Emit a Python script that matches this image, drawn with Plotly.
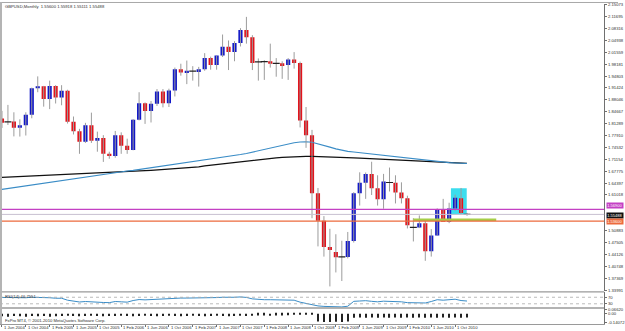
import plotly.graph_objects as go
import pandas as pd

W, H = 625, 331

# ---------------- data ----------------
months = [p.strftime("%Y-%m") for p in pd.period_range("2004-06", "2010-12", freq="M")]

opens = [1.8270, 1.8150, 1.8190, 1.8010, 1.8080, 1.8380, 1.9130,
         1.9190, 1.8830, 1.9200, 1.8870, 1.9060, 1.8180, 1.7910, 1.7610, 1.8080, 1.7640, 1.7720, 1.7270,
         1.7210, 1.7800, 1.7500, 1.7380, 1.8240, 1.8710, 1.8490, 1.8690, 1.9040, 1.8710, 1.9070, 1.9670,
         1.9580, 1.9630, 1.9620, 1.9670, 1.9990, 1.9790, 2.0060, 2.0310, 2.0160, 2.0420, 2.0790, 2.0580,
         1.9850, 1.9880, 1.9900, 1.9850, 1.9840, 1.9790, 1.9950, 1.9850, 1.8220, 1.7800, 1.6150, 1.5370,
         1.4620, 1.4480, 1.4330, 1.4340, 1.4790, 1.6150, 1.6450, 1.6700, 1.6290, 1.5980, 1.6480, 1.6450,
         1.6170, 1.6010, 1.5190, 1.5180, 1.5300, 1.4500, 1.4950, 1.5690, 1.5340, 1.5720, 1.6010, 1.5560]
highs = [1.8490, 1.8660, 1.8450, 1.8250, 1.8450, 1.9150, 1.9470,
         1.9200, 1.9350, 1.9220, 1.9220, 1.9090, 1.8330, 1.7980, 1.8150, 1.8440, 1.7900, 1.7800, 1.7330,
         1.7920, 1.7880, 1.7700, 1.8260, 1.9020, 1.8730, 1.8770, 1.9110, 1.9110, 1.9120, 1.9720, 1.9830,
         1.9920, 1.9760, 1.9740, 2.0130, 2.0030, 2.0060, 2.0660, 2.0490, 2.0470, 2.0840, 2.1161, 2.0640,
         1.9980, 1.9930, 2.0400, 1.9990, 1.9900, 1.9990, 2.0160, 1.9890, 1.8600, 1.7950, 1.6300, 1.5500,
         1.5140, 1.4985, 1.4800, 1.5050, 1.6180, 1.6745, 1.6740, 1.7045, 1.6660, 1.6700, 1.6880, 1.6660,
         1.6460, 1.6080, 1.5440, 1.5520, 1.5370, 1.5130, 1.5720, 1.5990, 1.5880, 1.6110, 1.6300, 1.55918]
lows = [1.8005, 1.8090, 1.7765, 1.7760, 1.7790, 1.8280, 1.9020,
        1.8610, 1.8540, 1.8700, 1.8650, 1.8130, 1.7820, 1.7270, 1.7580, 1.7580, 1.7330, 1.7040, 1.7130,
        1.7160, 1.7270, 1.7270, 1.7370, 1.8220, 1.8120, 1.8160, 1.8630, 1.8590, 1.8600, 1.8900, 1.9490,
        1.9250, 1.9350, 1.9180, 1.9630, 1.9660, 1.9660, 2.0020, 1.9650, 1.9900, 2.0320, 2.0400, 1.9650,
        1.9350, 1.9370, 1.9720, 1.9460, 1.9400, 1.9370, 1.9690, 1.8020, 1.7440, 1.5440, 1.4640, 1.4350,
        1.3503, 1.3900, 1.3656, 1.4300, 1.4750, 1.5800, 1.5990, 1.6100, 1.5800, 1.5710, 1.6200, 1.5860,
        1.5860, 1.5150, 1.4780, 1.5160, 1.4230, 1.4350, 1.4950, 1.5340, 1.5300, 1.5650, 1.5530, 1.55111]
closes = [1.8150, 1.8180, 1.8010, 1.8080, 1.8380, 1.9130, 1.9190,
          1.8830, 1.9200, 1.8870, 1.9060, 1.8180, 1.7910, 1.7610, 1.8080, 1.7640, 1.7720, 1.7270, 1.7210,
          1.7800, 1.7500, 1.7380, 1.8240, 1.8710, 1.8490, 1.8690, 1.9040, 1.8710, 1.9070, 1.9670, 1.9580,
          1.9630, 1.9620, 1.9670, 1.9990, 1.9790, 2.0060, 2.0310, 2.0160, 2.0420, 2.0790, 2.0580, 1.9850,
          1.9880, 1.9890, 1.9830, 1.9840, 1.9790, 1.9950, 1.9850, 1.8220, 1.7800, 1.6150, 1.5370, 1.4620,
          1.4540, 1.4330, 1.4340, 1.4790, 1.6150, 1.6450, 1.6700, 1.6290, 1.5980, 1.6480, 1.6455, 1.6170,
          1.6010, 1.5240, 1.5180, 1.5300, 1.4500, 1.4950, 1.5690, 1.5340, 1.5720, 1.6020, 1.5590, 1.55488]

ma_black = [1.6600, 1.6607, 1.6614, 1.6621, 1.6628, 1.6635, 1.6643, 1.6651, 1.6659, 1.6667,
            1.6675, 1.6683, 1.6691, 1.6699, 1.6707, 1.6715, 1.6723, 1.6731, 1.6739, 1.6747,
            1.6755, 1.6764, 1.6773, 1.6782, 1.6791, 1.6800, 1.6810, 1.6820, 1.6830, 1.6840,
            1.6852, 1.6865, 1.6880, 1.6897, 1.6930, 1.6950, 1.6970, 1.6990, 1.7010, 1.7030,
            1.7050, 1.7070, 1.7090, 1.7110, 1.7125, 1.7140, 1.7155, 1.7168, 1.7178, 1.7186,
            1.7192, 1.7195, 1.7195, 1.7192, 1.7188, 1.7183, 1.7177, 1.7170, 1.7163, 1.7156,
            1.7148, 1.7140, 1.7132, 1.7124, 1.7116, 1.7108, 1.7100, 1.7092, 1.7083, 1.7074,
            1.7065, 1.7056, 1.7047, 1.7038, 1.7029, 1.7020, 1.7012, 1.7004, 1.6996]
ma_blue = [1.6260, 1.6285, 1.6310, 1.6335, 1.6360, 1.6385, 1.6410, 1.6435, 1.6460, 1.6485,
           1.6510, 1.6540, 1.6570, 1.6600, 1.6625, 1.6650, 1.6675, 1.6700, 1.6720, 1.6740,
           1.6760, 1.6780, 1.6800, 1.6825, 1.6850, 1.6875, 1.6900, 1.6925, 1.6950, 1.6975,
           1.7000, 1.7020, 1.7040, 1.7060, 1.7080, 1.7105, 1.7130, 1.7160, 1.7190, 1.7220,
           1.7250, 1.7280, 1.7320, 1.7360, 1.7400, 1.7440, 1.7480, 1.7520, 1.7555, 1.7585,
           1.7605, 1.7615, 1.7600, 1.7560, 1.7510, 1.7460, 1.7410, 1.7365, 1.7340, 1.7320,
           1.7300, 1.7285, 1.7270, 1.7255, 1.7235, 1.7215, 1.7195, 1.7175, 1.7155, 1.7135,
           1.7115, 1.7095, 1.7075, 1.7055, 1.7035, 1.7020, 1.7010, 1.7000, 1.6995]

rsi = [69, 68, 65, 66, 67, 70, 70,
       66, 67, 64, 64, 52, 46, 41, 44, 41, 42, 38, 37,
       44, 42, 40, 50, 56, 54, 56, 60, 58, 61, 66, 65,
       65, 65, 66, 68, 67, 68, 70, 69, 70, 72, 69, 60,
       56, 55, 55, 54, 53, 54, 52, 40, 33, 22, 17, 14,
       12, 11, 11, 15, 45, 47, 49, 45, 42, 46, 46, 43,
       42, 37, 37, 39, 35, 44, 55, 52, 55, 58, 50, 46.76]

osc = [-0.045, -0.050, -0.040, -0.045, -0.050, -0.040, -0.045,
       -0.040, -0.050, -0.045, -0.040, -0.035, -0.040, -0.045, -0.040, -0.035, -0.040, -0.045, -0.040,
       -0.040, -0.035, -0.040, -0.045, -0.040, -0.035, -0.040, -0.045, -0.040, -0.035, -0.040, -0.045,
       -0.040, -0.035, -0.040, -0.045, -0.040, -0.035, -0.040, -0.045, -0.040, -0.035, -0.040, -0.035,
       -0.030, -0.030, -0.035, -0.030, -0.030, -0.025, -0.008, -0.006, -0.008, -0.010, -0.130, -0.140,
       -0.140, -0.135, -0.140, -0.130, -0.070, -0.065, -0.070, -0.065, -0.070, -0.065, -0.070, -0.065,
       -0.070, -0.065, -0.070, -0.065, -0.070, -0.065, -0.070, -0.065, -0.070, -0.065, -0.070, -0.065]

# right-hand price scale (labels hidden under the coloured level labels are left out)
price_ticks = [2.15073, 2.11695, 2.08316, 2.04938, 2.01559, 1.98181, 1.94803, 1.91424, 1.88046,
               1.84667, 1.81289, 1.77910, 1.74532, 1.71154, 1.67775, 1.64397, 1.61018,
               1.50883, 1.47505, 1.44126, 1.40748, 1.37369, 1.33991]

label_months = ["2004-06", "2004-10", "2005-02", "2005-06", "2005-10", "2006-02", "2006-06",
                "2006-10", "2007-02", "2007-06", "2007-10", "2008-02", "2008-06", "2008-10",
                "2009-02", "2009-06", "2009-10", "2010-02", "2010-06", "2010-10"]
label_text = ["1 Jun 2004", "1 Oct 2004", "1 Feb 2005", "1 Jun 2005", "1 Oct 2005", "1 Feb 2006",
              "1 Jun 2006", "1 Oct 2006", "1 Feb 2007", "1 Jun 2007", "1 Oct 2007", "1 Feb 2008",
              "1 Jun 2008", "1 Oct 2008", "1 Feb 2009", "1 Jun 2009", "1 Oct 2009", "1 Feb 2010",
              "1 Jun 2010", "1 Oct 2010"]

title_text = "GBPUSD,Monthly  1.55600 1.55918 1.55111 1.55488"
rsi_text = "RSI(14) 46.7551"
copyright_text = "FxPro MT4, \u00a9 2001-2010 MetaQuotes Software Corp."

level_magenta = 1.56900
level_bid = 1.55488
level_orange = 1.53600
level_green = 1.53950
green_span = [69.0, 82.9]          # months (index units)
box_span = [75.3, 77.95]           # months (index units)
box_prices = [1.5530, 1.6295]
rsi_levels = [70, 30]
osc_ticks = [0.0662, 0.0, -0.1407]
osc_ticktext = ["0.06620", "0.00", "-0.14072"]

# ---------------- styling ----------------
BLUE = "#1218C8"
RED = "#E3141C"
WICK = "#9C9C9C"
FONT = "Liberation Sans, Arial, sans-serif"
XR = [-0.33, 101.0]
XD = [0, 611 / W]


def pyp(px):
    return 1 - px / H


idx = list(range(len(months)))
DOJI = 0.0035

up_x, up_b, up_h, dn_x, dn_b, dn_h, dj_x, dj_y = [], [], [], [], [], [], [], []
for i, o, c in zip(idx, opens, closes):
    if abs(c - o) < DOJI:
        dj_x.append(i)
        dj_y.append(c)
    elif c > o:
        up_x.append(i); up_b.append(o); up_h.append(c - o)
    else:
        dn_x.append(i); dn_b.append(c); dn_h.append(o - c)

wx, wy = [], []
for i, h, l in zip(idx, highs, lows):
    wx += [i, i, None]
    wy += [l, h, None]

fig = go.Figure()
fig.add_trace(go.Scatter(x=idx, y=ma_black, mode="lines", line=dict(color="#111111", width=1.3),
                         hoverinfo="skip"))
fig.add_trace(go.Scatter(x=idx, y=ma_blue, mode="lines", line=dict(color="#3A8CC6", width=1.1),
                         hoverinfo="skip"))
fig.add_trace(go.Scatter(x=wx, y=wy, mode="lines", line=dict(color=WICK, width=1), hoverinfo="skip"))
fig.add_trace(go.Bar(x=up_x, y=up_h, base=up_b, width=0.7, marker=dict(color=BLUE, line=dict(width=0))))
fig.add_trace(go.Bar(x=dn_x, y=dn_h, base=dn_b, width=0.7, marker=dict(color=RED, line=dict(width=0))))
fig.add_trace(go.Scatter(x=dj_x, y=dj_y, mode="markers",
                         marker=dict(symbol="line-ew", size=5, line=dict(color="#222222", width=1.2))))
# RSI
fig.add_trace(go.Scatter(x=idx, y=rsi, mode="lines", line=dict(color="#3A8CC6", width=1),
                         xaxis="x", yaxis="y2"))
# oscillator
fig.add_trace(go.Bar(x=idx, y=osc, width=0.18, marker=dict(color="#222222", line=dict(width=0)),
                     xaxis="x2", yaxis="y3"))

shapes = []
# cyan box behind candles
shapes.append(dict(type="rect", xref="x", yref="y", x0=box_span[0], x1=box_span[1],
                   y0=box_prices[0], y1=box_prices[1], fillcolor="#3CDDEE",
                   line=dict(width=0), layer="below"))
# horizontal levels
shapes.append(dict(type="line", xref="paper", yref="y", x0=0, x1=XD[1], y0=level_magenta,
                   y1=level_magenta, line=dict(color="#C440C4", width=1.2)))
shapes.append(dict(type="line", xref="paper", yref="y", x0=0, x1=XD[1], y0=level_bid,
                   y1=level_bid, line=dict(color="#C8C0D0", width=1)))
shapes.append(dict(type="line", xref="x", yref="y", x0=green_span[0], x1=green_span[1],
                   y0=level_green, y1=level_green, line=dict(color="#A6CE48", width=2.6)))
shapes.append(dict(type="line", xref="paper", yref="y", x0=0, x1=XD[1], y0=level_orange,
                   y1=level_orange, line=dict(color="#EC6A3C", width=1.2)))
# RSI levels
for lv in rsi_levels:
    shapes.append(dict(type="line", xref="paper", yref="y2", x0=0, x1=XD[1], y0=lv, y1=lv,
                       line=dict(color="#A8A8A8", width=0.8, dash="dot")))
# panel separators and frame
for ypx in (292.5, 308.8):
    shapes.append(dict(type="line", xref="paper", yref="paper", x0=0, x1=XD[1], y0=pyp(ypx),
                       y1=pyp(ypx), line=dict(color="#9A9A9A", width=1.3)))
shapes.append(dict(type="line", xref="paper", yref="paper", x0=0, x1=1, y0=pyp(0.5), y1=pyp(0.5),
                   line=dict(color="#A8A8A8", width=1)))
shapes.append(dict(type="line", xref="paper", yref="paper", x0=1 / W, x1=1 / W, y0=pyp(325),
                   y1=1, line=dict(color="#B4B4B4", width=2)))

ann = []
small = dict(family=FONT, size=4.2, color="#303030")
ann.append(dict(text=title_text, xref="paper", yref="paper", x=3 / W, y=pyp(4.5), xanchor="left",
                yanchor="middle", showarrow=False, font=small))
ann.append(dict(text=rsi_text, xref="paper", yref="paper", x=3 / W, y=pyp(296.7), xanchor="left",
                yanchor="middle", showarrow=False, font=small))
ann.append(dict(text=copyright_text, xref="paper", yref="paper", x=3 / W, y=pyp(321.8),
                xanchor="left", yanchor="middle", showarrow=False, font=small))
for m, t in zip(label_months, label_text):
    ann.append(dict(text=t, xref="x", yref="paper", x=months.index(m), y=pyp(328.2), xanchor="left",
                    yanchor="middle", showarrow=False, font=small))
for lv, col, txt, ys in ((level_magenta, "#C440C4", "1.56900", 3.6),
                         (level_bid, "#101010", "1.55488", -0.6),
                         (level_orange, "#EC6A3C", "1.53600", 0.0)):
    ann.append(dict(text=txt, xref="paper", yref="y", x=612.5 / W, y=lv, xanchor="left",
                    yanchor="middle", yshift=ys, showarrow=False, bgcolor=col, borderpad=0.2,
                    font=dict(family=FONT, size=4.0, color="white")))

axis_common = dict(showgrid=False, zeroline=False, showline=True, linecolor="#707070", linewidth=1,
                   ticks="outside", ticklen=2, tickcolor="#707070",
                   tickfont=dict(family=FONT, size=4.2, color="#303030"), side="right")

fig.update_layout(
    width=W, height=H, margin=dict(l=0, r=0, t=0, b=0),
    paper_bgcolor="white", plot_bgcolor="white", showlegend=False, barmode="overlay",
    xaxis=dict(domain=XD, range=XR, visible=False, anchor="y"),
    xaxis2=dict(domain=XD, range=XR, matches="x", anchor="y3", showgrid=False, zeroline=False,
                showline=True, linecolor="#9A9A9A", linewidth=1.3, ticks="outside", ticklen=2,
                tickcolor="#707070", tickvals=[months.index(m) for m in label_months],
                showticklabels=False),
    yaxis=dict(domain=[pyp(292), pyp(2)], range=[1.33626, 2.15270], anchor="x",
               tickvals=price_ticks, ticktext=[f"{v:.5f}" for v in price_ticks], **axis_common),
    yaxis2=dict(domain=[pyp(309.5), pyp(293)], range=[0, 100], anchor="x",
                tickvals=rsi_levels, ticktext=[str(v) for v in rsi_levels], **axis_common),
    yaxis3=dict(domain=[pyp(325), pyp(309.5)], range=[-0.174, 0.0828], anchor="x2",
                tickvals=osc_ticks, ticktext=osc_ticktext, **axis_common),
    shapes=shapes, annotations=ann,
)

fig.write_html("out.html")
